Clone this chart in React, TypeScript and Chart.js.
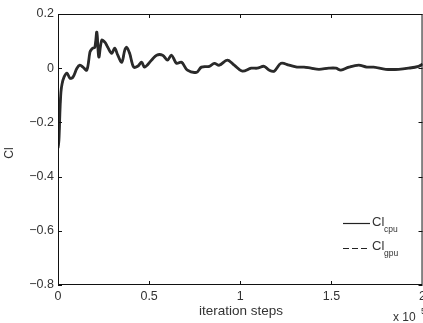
import React, { useEffect, useRef } from "react";
import { Chart, registerables } from "chart.js";

Chart.register(...registerables);

// iteration steps (x 10^5)
const steps = [
  0, 0.005, 0.011, 0.016, 0.022, 0.033, 0.049, 0.066, 0.082, 0.104, 0.12, 0.137, 0.158,
  0.175, 0.18, 0.191, 0.202, 0.213, 0.224, 0.24, 0.257, 0.273, 0.295, 0.311, 0.328,
  0.35, 0.366, 0.377, 0.393, 0.415, 0.437, 0.459, 0.475, 0.514, 0.541,
  0.574, 0.601, 0.623, 0.65, 0.678, 0.71, 0.76, 0.787, 0.831, 0.858, 0.885, 0.929,
  0.967, 1.011, 1.06, 1.093, 1.131, 1.158, 1.186, 1.224, 1.268, 1.311, 1.35, 1.388,
  1.432, 1.486, 1.525, 1.552, 1.596, 1.65, 1.694, 1.732, 1.798, 1.869, 1.923, 1.978, 2.0,
];

const clCpu = [
  -0.295, -0.266, -0.155, -0.089, -0.059, -0.033, -0.018, -0.037, -0.033, 0.0, 0.011,
  0.004, -0.007, 0.059, 0.066, 0.074, 0.077, 0.133, 0.041, 0.103, 0.096, 0.077, 0.055,
  0.074, 0.048, 0.022, 0.066, 0.077, 0.055, 0.004, 0.007, 0.022, 0.004,
  0.03, 0.048, 0.048, 0.03, 0.048, 0.018, 0.022, -0.007, -0.015, 0.004, 0.007, 0.018,
  0.011, 0.03, 0.011, -0.011, 0.0, 0.0, 0.007, -0.007, -0.011, 0.018, 0.011, 0.004,
  0.004, 0.0, -0.004, 0.0, 0.0, -0.007, 0.004, 0.011, 0.004, 0.004, -0.004, -0.004, 0.0,
  0.007, 0.015,
];

const clGpu = [
  -0.295, -0.266, -0.155, -0.089, -0.059, -0.033, -0.018, -0.037, -0.033, 0.0, 0.011,
  0.004, -0.007, 0.059, 0.066, 0.074, 0.077, 0.133, 0.041, 0.103, 0.096, 0.077, 0.055,
  0.074, 0.048, 0.022, 0.066, 0.077, 0.055, 0.004, 0.007, 0.022, 0.004,
  0.03, 0.048, 0.048, 0.03, 0.048, 0.018, 0.022, -0.007, -0.015, 0.004, 0.007, 0.018,
  0.011, 0.03, 0.011, -0.011, 0.0, 0.0, 0.007, -0.007, -0.011, 0.018, 0.011, 0.004,
  0.004, 0.0, -0.004, 0.0, 0.0, -0.007, 0.004, 0.011, 0.004, 0.004, -0.004, -0.004, 0.0,
  0.007, 0.015,
];

const xTicks = [0, 0.5, 1, 1.5, 2];
const yTicks = [-0.8, -0.6, -0.4, -0.2, 0, 0.2];

const FONT = '"Liberation Sans", Arial, Helvetica, sans-serif';
const TEXT = "#333";

const fmt = (v: number) => {
  const r = Math.round(v * 10) / 10;
  if (r === 0) return "0";
  return (r < 0 ? "\u2212" : "") + String(Math.abs(r));
};

const decorPlugin = {
  id: "decor",
  afterDraw(chart: any) {
    const { ctx, chartArea, scales } = chart;
    const { left, right, top, bottom } = chartArea;
    const xs = scales.x;
    const ys = scales.y;
    ctx.save();
    // box
    ctx.strokeStyle = "#111";
    ctx.lineWidth = 1;
    ctx.strokeRect(left + 0.5, top + 0.5, right - left - 1, bottom - top - 1);
    // inward ticks
    const tl = 4;
    ctx.beginPath();
    xTicks.forEach((v) => {
      const px = Math.round(xs.getPixelForValue(v)) + 0.5;
      ctx.moveTo(px, bottom);
      ctx.lineTo(px, bottom - tl);
      ctx.moveTo(px, top);
      ctx.lineTo(px, top + tl);
    });
    yTicks.forEach((v) => {
      const py = Math.round(ys.getPixelForValue(v)) + 0.5;
      ctx.moveTo(left, py);
      ctx.lineTo(left + tl, py);
      ctx.moveTo(right, py);
      ctx.lineTo(right - tl, py);
    });
    ctx.stroke();

    // titles
    ctx.fillStyle = TEXT;
    ctx.font = `13.5px ${FONT}`;
    ctx.textAlign = "center";
    ctx.textBaseline = "middle";
    ctx.fillText("iteration steps", 241, 311);
    ctx.save();
    ctx.translate(10, 153);
    ctx.rotate(-Math.PI / 2);
    ctx.font = `12px ${FONT}`;
    ctx.fillText("Cl", 0, 0);
    ctx.restore();
    // x 10^5
    ctx.textAlign = "left";
    ctx.font = `12px ${FONT}`;
    ctx.fillText("x 10", 393, 318);
    ctx.font = `9px ${FONT}`;
    ctx.fillText("5", 421, 312);

    // legend
    ctx.strokeStyle = "#222";
    ctx.lineWidth = 1.2;
    ctx.beginPath();
    ctx.moveTo(343, 223.5);
    ctx.lineTo(370, 223.5);
    ctx.stroke();
    ctx.setLineDash([6, 3]);
    ctx.beginPath();
    ctx.moveTo(343, 248.5);
    ctx.lineTo(370, 248.5);
    ctx.stroke();
    ctx.setLineDash([]);
    ctx.font = `13px ${FONT}`;
    ctx.fillText("Cl", 372, 222);
    ctx.fillText("Cl", 372, 246);
    ctx.font = `8.5px ${FONT}`;
    ctx.fillText("cpu", 384, 230);
    ctx.fillText("gpu", 384, 254);
    ctx.restore();
  },
};

export default function App() {
  const ref = useRef<HTMLCanvasElement | null>(null);
  useEffect(() => {
    if (!ref.current) return;
    const chart = new Chart(ref.current, {
      type: "line",
      data: {
        datasets: [
          {
            label: "Cl_cpu",
            data: steps.map((x, i) => ({ x, y: clCpu[i] })),
            borderColor: "#2a2a2a",
            borderWidth: 2.8,
            pointRadius: 0,
            tension: 0.35,
            fill: false,
          },
          {
            label: "Cl_gpu",
            data: steps.map((x, i) => ({ x, y: clGpu[i] })),
            borderColor: "#3a3a3a",
            borderWidth: 1.6,
            borderDash: [6, 3],
            pointRadius: 0,
            tension: 0.35,
            fill: false,
          },
        ],
      },
      options: {
        responsive: false,
        animation: false,
        events: [],
        layout: { padding: { top: 14, right: 6, left: 0, bottom: 0 } },
        plugins: { legend: { display: false }, tooltip: { enabled: false } },
        scales: {
          x: {
            type: "linear",
            min: 0,
            max: 2,
            afterBuildTicks: (s: any) => {
              s.ticks = xTicks.map((v) => ({ value: v }));
            },
            afterFit: (s: any) => {
              s.height = 38;
            },
            ticks: {
              padding: 4,
              color: TEXT,
              font: { family: FONT, size: 12.5 },
              maxRotation: 0,
              callback: (v: any) => fmt(Number(v)),
            },
            grid: { display: false, drawTicks: false },
            border: { display: false },
          },
          y: {
            type: "linear",
            min: -0.8,
            max: 0.2,
            afterBuildTicks: (s: any) => {
              s.ticks = yTicks.map((v) => ({ value: v }));
            },
            afterFit: (s: any) => {
              s.width = 58;
            },
            ticks: {
              padding: 4,
              color: TEXT,
              font: { family: FONT, size: 12.5 },
              callback: (v: any) => fmt(Number(v)),
            },
            grid: { display: false, drawTicks: false },
            border: { display: false },
          },
        },
      },
      plugins: [decorPlugin],
    });
    return () => chart.destroy();
  }, []);
  return (
    <div
      style={{
        position: "absolute",
        left: 0,
        top: 0,
        width: 423,
        height: 323,
        overflow: "hidden",
        background: "#fff",
      }}
    >
      <canvas ref={ref} width={430} height={323} style={{ display: "block" }} />
    </div>
  );
}
